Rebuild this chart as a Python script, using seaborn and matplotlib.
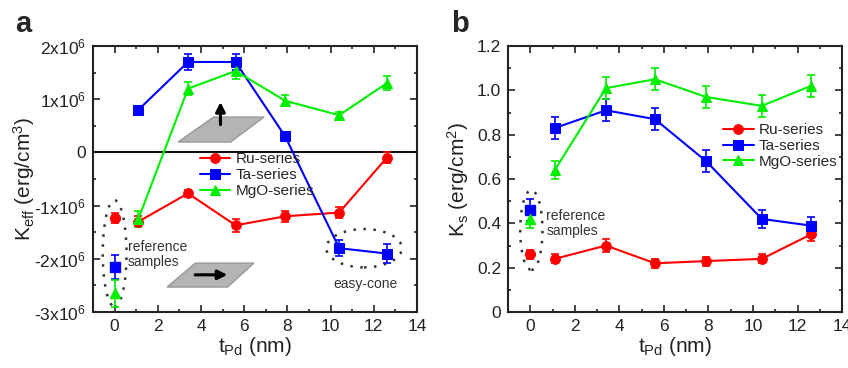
import numpy as np
import pandas as pd
import matplotlib
matplotlib.use("Agg")
import matplotlib.pyplot as plt
import seaborn as sns
from matplotlib.patches import Ellipse, Polygon
from matplotlib.ticker import MultipleLocator, FixedLocator, FixedFormatter

sns.set_theme(style="ticks")
plt.rcParams['font.family'] = ['Liberation Sans', 'DejaVu Sans']
plt.rcParams['mathtext.fontset'] = 'custom'
plt.rcParams['mathtext.rm'] = 'Liberation Sans'
plt.rcParams['mathtext.it'] = 'Liberation Sans:italic'
plt.rcParams['mathtext.default'] = 'regular'

# ---------------- data ----------------
series_names = ["Ru-series", "Ta-series", "MgO-series"]
t_pd = [1.1, 3.4, 5.6, 7.9, 10.4, 12.6]
t_ref = 0.0

# panel a: K_eff (x1e6 erg/cm^3)
keff_ru = [-1.30, -0.77, -1.37, -1.20, -1.13, -0.10]
keff_ta = [0.80, 1.70, 1.70, 0.30, -1.80, -1.90]
keff_mgo = [-1.25, 1.20, 1.53, 0.97, 0.70, 1.30]
keff_ru_err = [0.10, 0.07, 0.12, 0.10, 0.10, 0.10]
keff_ta_err = [0.06, 0.15, 0.15, 0.05, 0.15, 0.18]
keff_mgo_err = [0.15, 0.12, 0.15, 0.10, 0.06, 0.13]
keff_ref = [-1.23, -2.15, -2.65]
keff_ref_err = [0.10, 0.22, 0.25]

# panel b: K_s (erg/cm^2)
ks_ru = [0.24, 0.30, 0.22, 0.23, 0.24, 0.35]
ks_ta = [0.83, 0.91, 0.87, 0.68, 0.42, 0.39]
ks_mgo = [0.64, 1.01, 1.05, 0.97, 0.93, 1.02]
ks_ru_err = [0.02, 0.03, 0.02, 0.02, 0.02, 0.03]
ks_ta_err = [0.05, 0.05, 0.05, 0.05, 0.04, 0.04]
ks_mgo_err = [0.04, 0.05, 0.05, 0.05, 0.05, 0.05]
ks_ref = [0.26, 0.46, 0.42]
ks_ref_err = [0.02, 0.05, 0.04]

yticks_a = [-3, -2, -1, 0, 1, 2]
yticklabels_a = ['-3x10$^6$', '-2x10$^6$', '-1x10$^6$', '0', '1x10$^6$', '2x10$^6$']
yticks_b = [0, 0.2, 0.4, 0.6, 0.8, 1.0, 1.2]
yticklabels_b = ['0', '0.2', '0.4', '0.6', '0.8', '1.0', '1.2']
xticks = [0, 2, 4, 6, 8, 10, 12, 14]

colors = ['#ff0000', '#0000ff', '#00ee00']
markers = ['o', 's', '^']
msizes = [7, 6.5, 7]

fig = plt.figure(figsize=(8.48, 3.68), dpi=100)
ax_a = fig.add_axes([0.1097, 0.152, 0.382, 0.723])
ax_b = fig.add_axes([0.599, 0.152, 0.394, 0.723])


def draw(ax, vals, errs, ref, ref_err):
    for name, v, e, r, re_, c, m, ms in zip(series_names, vals, errs, ref, ref_err,
                                            colors, markers, msizes):
        df = pd.DataFrame({'t': t_pd, 'v': v})
        sns.lineplot(data=df, x='t', y='v', ax=ax, color=c, marker=m,
                     markersize=ms, markeredgecolor=c, linewidth=1.5,
                     label=name, zorder=3)
        ax.errorbar(t_pd, v, yerr=e, fmt='none', ecolor=c, elinewidth=1.2,
                    capsize=3, capthick=1.2, zorder=2)
        ax.errorbar([t_ref], [r], yerr=[re_], fmt=m, color=c, mec=c,
                    markersize=ms, elinewidth=1.2, capsize=3, capthick=1.2, zorder=3)


def style(ax, ylim, yt, ytl, yminor):
    ax.set_xlim(-1, 14)
    ax.set_ylim(*ylim)
    ax.xaxis.set_major_locator(FixedLocator(xticks))
    ax.xaxis.set_minor_locator(MultipleLocator(1))
    ax.yaxis.set_major_locator(FixedLocator(yt))
    ax.yaxis.set_major_formatter(FixedFormatter(ytl))
    ax.yaxis.set_minor_locator(MultipleLocator(yminor))
    ax.tick_params(which='both', direction='in', top=True, right=True,
                   labelsize=12.5, colors='#222222', width=1.2)
    ax.tick_params(which='major', length=5, pad=5)
    ax.tick_params(which='minor', length=2.5)
    for sp in ax.spines.values():
        sp.set_visible(True)
        sp.set_linewidth(1.5)
        sp.set_color('#222222')
    ax.set_xlabel('t$_{Pd}$ (nm)', fontsize=15, labelpad=1, color='#222222')


leg_kw = dict(loc='upper left', frameon=False, fontsize=11, handlelength=2.0,
              handletextpad=0.35, labelspacing=0.12, borderaxespad=0, borderpad=0)

# ---------- panel a ----------
draw(ax_a, [keff_ru, keff_ta, keff_mgo], [keff_ru_err, keff_ta_err, keff_mgo_err],
     keff_ref, keff_ref_err)
ax_a.axhline(0, color='#111111', lw=1.5, zorder=1)
style(ax_a, (-3, 2), yticks_a, yticklabels_a, 0.5)
ax_a.set_ylabel('K$_{eff}$ (erg/cm$^3$)', fontsize=15, labelpad=-2, color='#222222')
ax_a.legend(bbox_to_anchor=(0.33, 0.60), **leg_kw)

ax_a.add_patch(Ellipse((0.0, -1.9), 1.1, 2.0, fill=False, ls=(0, (1, 3)),
                       lw=1.8, ec='#333333', zorder=1))
ax_a.text(0.62, -1.91, 'reference\nsamples', fontsize=10, va='center', ha='left',
          color='#333333', linespacing=1.1)
ax_a.add_patch(Ellipse((11.55, -1.8), 3.5, 0.72, fill=False, ls=(0, (1, 3)),
                       lw=1.8, ec='#333333', zorder=1))
ax_a.text(11.6, -2.47, 'easy-cone', fontsize=10, va='center', ha='center',
          color='#333333')
ax_a.add_patch(Polygon([[2.94, 0.195], [5.37, 0.195], [6.92, 0.665], [4.58, 0.665]],
                       closed=True, fc='#b4b4b4', ec='#999999', lw=1, zorder=1))
ax_a.annotate('', xy=(4.9, 1.0), xytext=(4.9, 0.47),
              arrowprops=dict(arrowstyle='-|>', color='black', lw=2.2,
                              mutation_scale=14), zorder=4)
ax_a.add_patch(Polygon([[2.43, -2.53], [5.23, -2.53], [6.45, -2.08], [3.74, -2.08]],
                       closed=True, fc='#b4b4b4', ec='#999999', lw=1, zorder=1))
ax_a.annotate('', xy=(5.35, -2.30), xytext=(3.6, -2.30),
              arrowprops=dict(arrowstyle='-|>', color='black', lw=2.2,
                              mutation_scale=14), zorder=4)

# ---------- panel b ----------
draw(ax_b, [ks_ru, ks_ta, ks_mgo], [ks_ru_err, ks_ta_err, ks_mgo_err],
     ks_ref, ks_ref_err)
style(ax_b, (0, 1.2), yticks_b, yticklabels_b, 0.1)
ax_b.set_ylabel('K$_s$ (erg/cm$^2$)', fontsize=15, labelpad=4, color='#222222')
ax_b.legend(bbox_to_anchor=(0.644, 0.71), **leg_kw)
ax_b.add_patch(Ellipse((0.05, 0.37), 1.0, 0.36, fill=False, ls=(0, (1, 3)),
                       lw=1.8, ec='#333333', zorder=1))
ax_b.text(0.72, 0.40, 'reference\nsamples', fontsize=10, va='center', ha='left',
          color='#333333', linespacing=1.1)

fig.text(0.018, 0.935, 'a', fontsize=21, fontweight='bold', va='center', ha='left')
fig.text(0.532, 0.935, 'b', fontsize=21, fontweight='bold', va='center', ha='left')

fig.savefig('out.png', dpi=100)
